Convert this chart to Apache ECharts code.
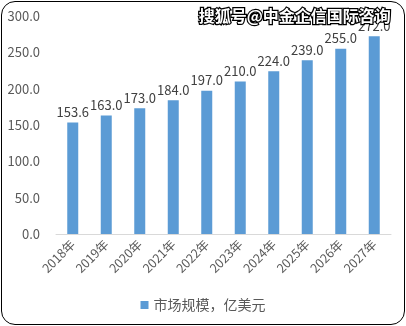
<!DOCTYPE html>
<html><head><meta charset="utf-8">
<script src="https://cdn.jsdelivr.net/npm/echarts@6/dist/echarts.min.js"></script>
<style>html,body{margin:0;padding:0;background:#fff;}#c{position:absolute;left:0;top:0;width:406px;height:326px;}
#b{position:absolute;left:1px;top:1px;width:402px;height:322px;border:1.5px solid #000;border-radius:14px;pointer-events:none;}</style>
</head><body><div id="c"></div><div id="b"></div>
<script>
var categories = ['2018年','2019年','2020年','2021年','2022年','2023年','2024年','2025年','2026年','2027年'];
var values = [153.6,163.0,173.0,184.0,197.0,210.0,224.0,239.0,255.0,272.0];
var seriesName = '市场规模，亿美元';
var chart = echarts.init(document.getElementById('c'));
var font = '"Microsoft YaHei","Noto Sans CJK SC",sans-serif';
chart.setOption({
  animation:false,
  textStyle:{fontFamily:font},
  grid:{left:56,right:15,top:16,bottom:92,containLabel:false},
  legend:{bottom:9,left:'center',itemWidth:8,itemHeight:8,icon:'rect',itemGap:5,
    textStyle:{color:'#595959',fontSize:14,fontFamily:font},data:[seriesName]},
  xAxis:{type:'category',data:categories,
    axisLine:{lineStyle:{color:'#d9d9d9',width:1}},axisTick:{show:false},
    axisLabel:{rotate:45,color:'#595959',fontSize:12.5,margin:8,interval:0}},
  yAxis:{type:'value',min:0,max:300,interval:50,
    axisLine:{show:false},axisTick:{show:false},splitLine:{show:false},
    axisLabel:{color:'#595959',fontSize:13,margin:16,formatter:function(v){return v.toFixed(1);}}},
  series:[{name:seriesName,type:'bar',data:values,barWidth:11,
    itemStyle:{color:'#5B9BD5'},
    label:{show:true,position:'top',color:'#404040',fontSize:13,distance:4,
      formatter:function(p){return p.value.toFixed(1);}}}],
  graphic:[{type:'text',right:14,top:7,style:{text:'搜狐号@中金企信国际咨询',fill:'#fff',stroke:'#000',lineWidth:2.5,
    font:'bold 16px "Noto Sans CJK SC",sans-serif'},z:100}]
});
</script></body></html>
